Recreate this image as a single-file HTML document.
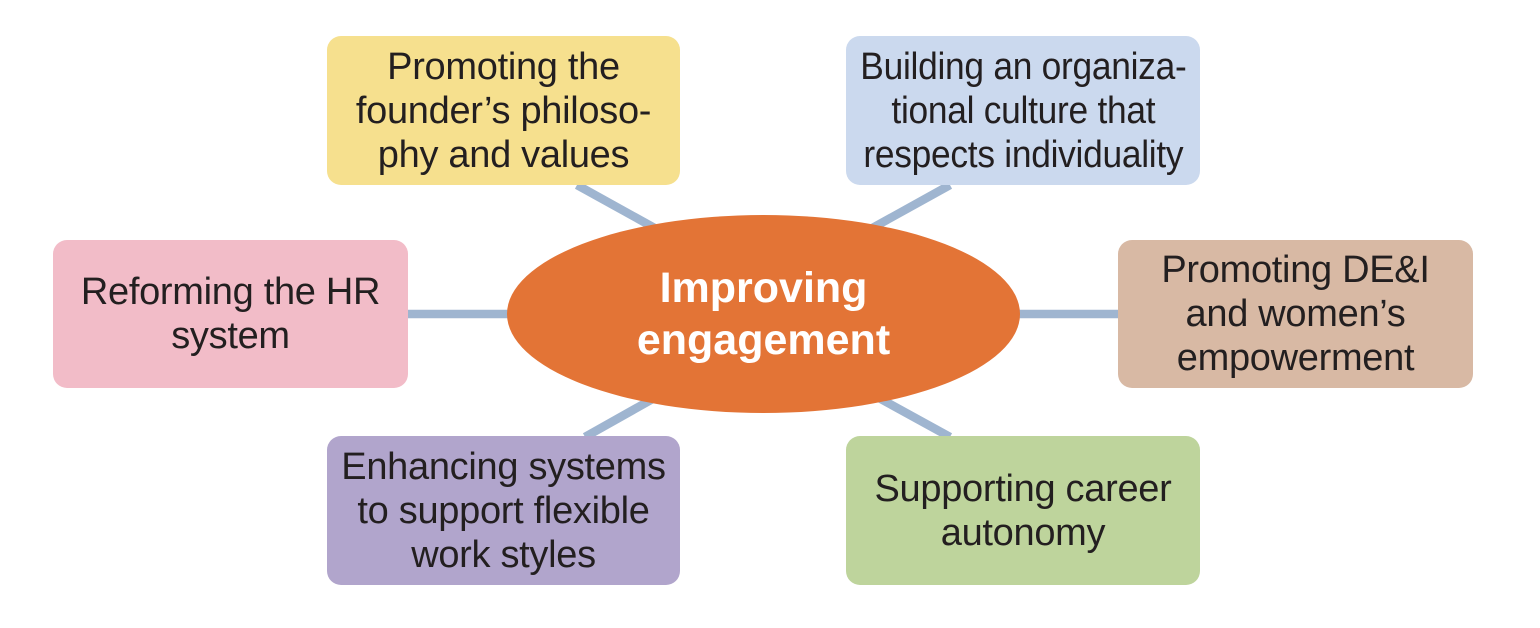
<!DOCTYPE html>
<html>
<head>
<meta charset="utf-8">
<style>
  html, body { margin: 0; padding: 0; background: #ffffff; }
  body { width: 1540px; height: 628px; position: relative; overflow: hidden; }
  svg { position: absolute; left: 0; top: 0; }
  .box {
    position: absolute;
    border-radius: 14px;
    display: flex;
    align-items: center;
    justify-content: center;
    text-align: center;
    font-family: "Liberation Sans", sans-serif;
    font-size: 38px;
    line-height: 44px;
    color: #231f20;
    white-space: nowrap;
    letter-spacing: -0.3px;
  }
  .box .in { display: inline-block; }
  .center {
    position: absolute;
    left: 507px; top: 215px; width: 513px; height: 198px;
    display: flex; align-items: center; justify-content: center;
    text-align: center;
    font-family: "Liberation Sans", sans-serif;
    font-weight: bold;
    font-size: 43px;
    line-height: 52px;
    color: #ffffff;
    white-space: nowrap;
  }
</style>
</head>
<body>
<svg width="1540" height="628" viewBox="0 0 1540 628">
  <g stroke="#9fb5d0" stroke-width="8.5" stroke-linecap="butt">
    <line x1="408" y1="314" x2="530" y2="314"/>
    <line x1="1000" y1="314" x2="1118" y2="314"/>
    <line x1="577" y1="185" x2="660" y2="231"/>
    <line x1="950" y1="185" x2="867" y2="231"/>
    <line x1="585" y1="437" x2="665" y2="392"/>
    <line x1="950" y1="437" x2="868" y2="392"/>
  </g>
  <ellipse cx="763.5" cy="314" rx="256.5" ry="99" fill="#e37436"/>
</svg>

<div class="box" style="left:327px;top:36px;width:353px;height:149px;background:#f6e08e;"><span class="in">Promoting the<br>founder’s philoso-<br>phy and values</span></div>
<div class="box" style="left:846px;top:36px;width:354px;height:149px;background:#cbd9ee;"><span class="in" style="transform:scaleX(0.93);">Building an organiza-<br>tional culture that<br>respects individuality</span></div>
<div class="box" style="left:53px;top:240px;width:355px;height:148px;background:#f2bcc8;"><span class="in">Reforming the HR<br>system</span></div>
<div class="box" style="left:1118px;top:240px;width:355px;height:148px;background:#d8b9a4;"><span class="in">Promoting DE&amp;I<br>and women’s<br>empowerment</span></div>
<div class="box" style="left:327px;top:436px;width:353px;height:149px;background:#b1a5cc;"><span class="in">Enhancing systems<br>to support flexible<br>work styles</span></div>
<div class="box" style="left:846px;top:436px;width:354px;height:149px;background:#bed49c;"><span class="in">Supporting career<br>autonomy</span></div>

<div class="center">Improving<br>engagement</div>
</body>
</html>
